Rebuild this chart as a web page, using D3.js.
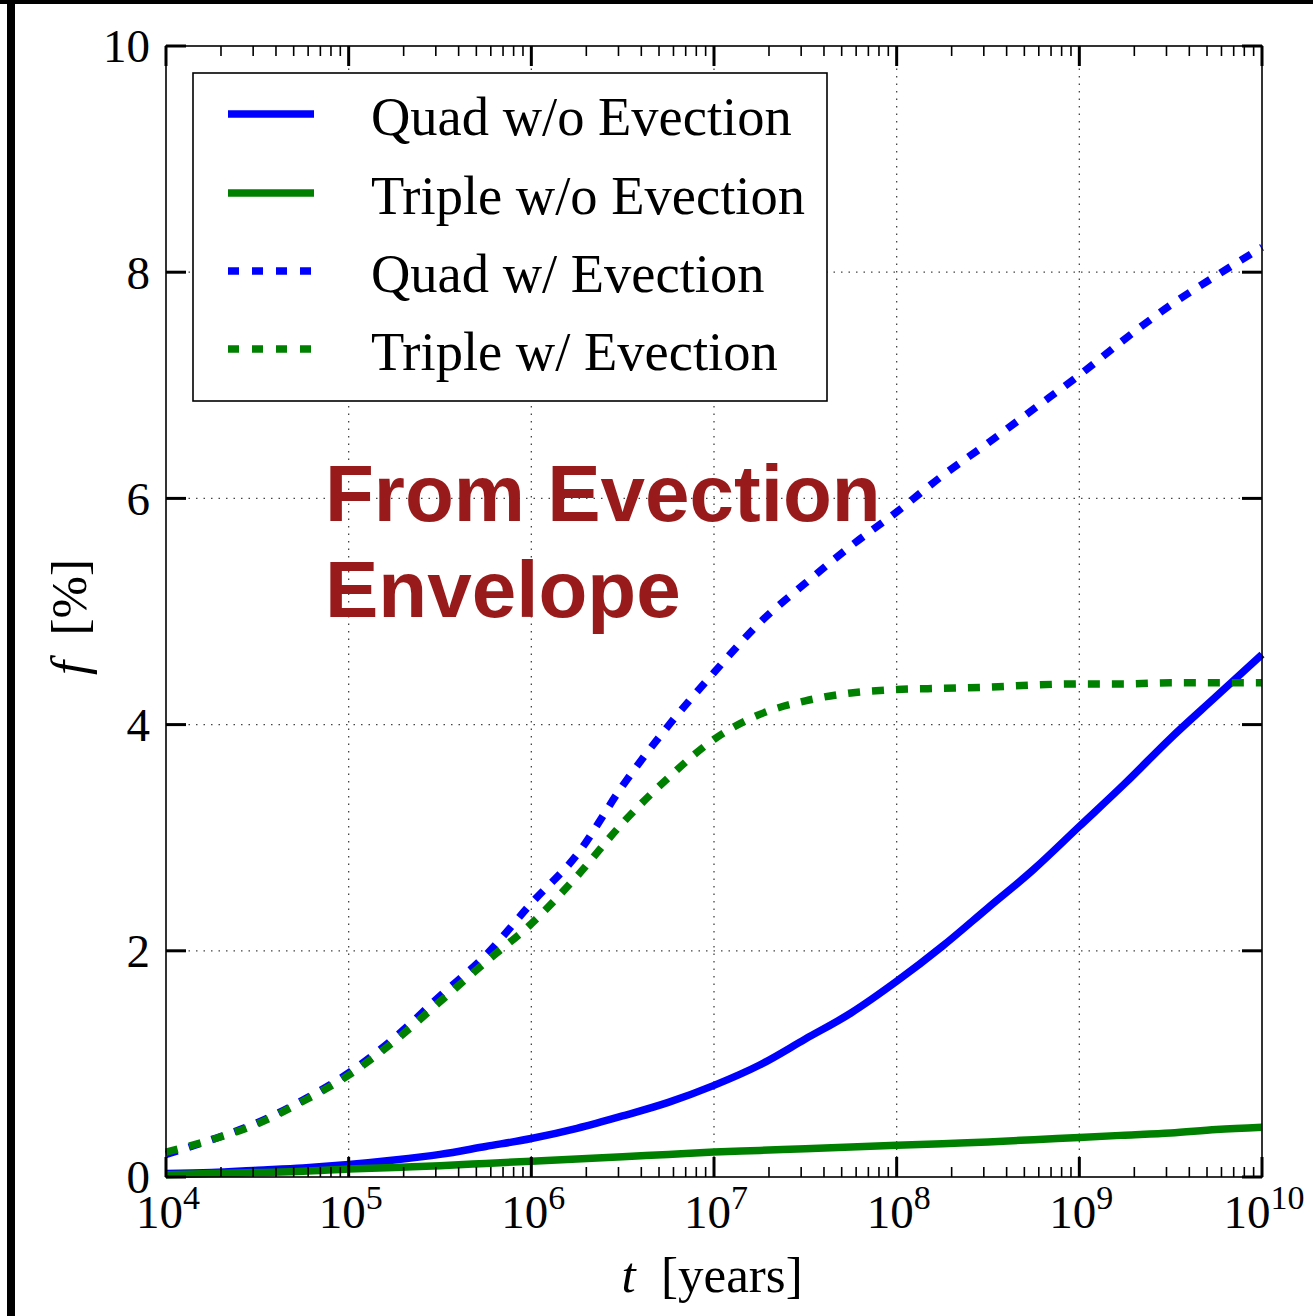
<!DOCTYPE html>
<html>
<head>
<meta charset="utf-8">
<script src="https://cdn.jsdelivr.net/npm/d3@7"></script>
<style>
  html, body { margin: 0; padding: 0; background: #fff; }
  svg { display: block; }
</style>
</head>
<body>
<svg id="chart" width="1313" height="1316"></svg>
<script>
// log10 of t [years] at which curves were read
const logT = [4, 4.25, 4.5, 4.75, 5, 5.25, 5.5, 5.75, 6, 6.25, 6.5, 6.75, 7,
              7.25, 7.5, 7.75, 8, 8.25, 8.5, 8.75, 9, 9.25, 9.5, 9.75, 10]

const quadNoEv   = [0.03, 0.04, 0.06, 0.08, 0.11, 0.15, 0.20, 0.27, 0.34, 0.43, 0.54, 0.66, 0.81,
                    0.99, 1.22, 1.45, 1.73, 2.04, 2.38, 2.72, 3.10, 3.48, 3.88, 4.25, 4.62]
const tripleNoEv = [0.02, 0.03, 0.04, 0.05, 0.07, 0.085, 0.10, 0.12, 0.14, 0.16, 0.18, 0.20, 0.22,
                    0.235, 0.25, 0.265, 0.28, 0.295, 0.31, 0.33, 0.35, 0.37, 0.39, 0.42, 0.44]
const quadEv     = [0.20, 0.33, 0.48, 0.68, 0.92, 1.23, 1.60, 1.96, 2.42, 2.85, 3.46, 3.99, 4.46,
                    4.90, 5.25, 5.58, 5.88, 6.20, 6.49, 6.79, 7.09, 7.41, 7.71, 7.97, 8.22]
const tripleEv   = [0.22, 0.33, 0.47, 0.67, 0.90, 1.20, 1.55, 1.90, 2.24, 2.66, 3.13, 3.53, 3.87,
                    4.09, 4.21, 4.28, 4.31, 4.32, 4.33, 4.35, 4.36, 4.36, 4.37, 4.37, 4.37]

const seriesNames = ['Quad w/o Evection', 'Triple w/o Evection', 'Quad w/ Evection', 'Triple w/ Evection']
const seriesColors = ['#0000ff', '#008000', '#0000ff', '#008000']
const seriesDashed = [false, false, true, true]
const seriesValues = [quadNoEv, tripleNoEv, quadEv, tripleEv]

const xDecades = [4, 5, 6, 7, 8, 9, 10]
const yTicks = [0, 2, 4, 6, 8, 10]

const svg = d3.select('#chart')

// page frame (black bars on top and left)
svg.append('rect').attr('x', 0).attr('y', 0).attr('width', 1313).attr('height', 4).attr('fill', '#000')
svg.append('rect').attr('x', 7).attr('y', 0).attr('width', 8).attr('height', 1316).attr('fill', '#000')

const plotL = 166, plotR = 1262, plotT = 46, plotB = 1177

let x = d3.scaleLog().domain([1e4, 1e10]).range([plotL, plotR])
let y = d3.scaleLinear().domain([0, 10]).range([plotB, plotT])

const serif = "'Liberation Serif', 'Times New Roman', serif"

// grid
let grid = svg.append('g').attr('class', 'grid')
grid.selectAll('line.gx')
  .data(xDecades.slice(1, -1))
  .join('line')
    .attr('class', 'gx')
    .attr('x1', d => x(10 ** d)).attr('x2', d => x(10 ** d))
    .attr('y1', plotT).attr('y2', plotB)
grid.selectAll('line.gy')
  .data(yTicks.slice(1, -1))
  .join('line')
    .attr('class', 'gy')
    .attr('x1', plotL).attr('x2', plotR)
    .attr('y1', d => y(d)).attr('y2', d => y(d))
grid.selectAll('line')
  .attr('stroke', '#444')
  .attr('stroke-width', 1.3)
  .attr('stroke-dasharray', '1.5,6')

// curves
let line = d3.line()
  .x((d, i) => x(10 ** logT[i]))
  .y(d => y(d))
  .curve(d3.curveMonotoneX)

let curves = svg.append('g').attr('class', 'curves')
// solid first, then dashed on top; triple over quad
;[0, 1, 2, 3].forEach(k => {
  curves.append('path')
    .attr('d', line(seriesValues[k]))
    .attr('fill', 'none')
    .attr('stroke', seriesColors[k])
    .attr('stroke-width', 7.5)
    .attr('stroke-dasharray', seriesDashed[k] ? '12,12' : null)
})

// axes: ticks inward on all four sides
let minorVals = []
for (let e = 4; e < 10; e++) {
  for (let m = 2; m <= 9; m++) minorVals.push(m * 10 ** e)
}

let axes = svg.append('g').attr('class', 'axes')
const majorLen = 20, minorLen = 10

function xTicksAt(g, yPos, dir) {
  g.selectAll(null).data(minorVals).join('line')
    .attr('x1', d => x(d)).attr('x2', d => x(d))
    .attr('y1', yPos).attr('y2', yPos + dir * minorLen)
    .attr('stroke', '#000').attr('stroke-width', 1.6)
  g.selectAll(null).data(xDecades).join('line')
    .attr('x1', d => x(10 ** d)).attr('x2', d => x(10 ** d))
    .attr('y1', yPos).attr('y2', yPos + dir * majorLen)
    .attr('stroke', '#000').attr('stroke-width', 3)
}
function yTicksAt(g, xPos, dir) {
  g.selectAll(null).data(yTicks).join('line')
    .attr('x1', xPos).attr('x2', xPos + dir * majorLen)
    .attr('y1', d => y(d)).attr('y2', d => y(d))
    .attr('stroke', '#000').attr('stroke-width', 3)
}
xTicksAt(axes.append('g'), plotB, -1)
xTicksAt(axes.append('g'), plotT, 1)
yTicksAt(axes.append('g'), plotL, 1)
yTicksAt(axes.append('g'), plotR, -1)

axes.append('rect')
  .attr('x', plotL).attr('y', plotT)
  .attr('width', plotR - plotL).attr('height', plotB - plotT)
  .attr('fill', 'none').attr('stroke', '#000').attr('stroke-width', 1.6)

// tick labels (10^n, centred on the tick as a whole)
let xLab = svg.append('g')
  .style('font-family', serif)
  .selectAll('text')
  .data(xDecades)
  .join('text')
    .attr('x', d => x(10 ** d) + 2)
    .attr('y', 1228)
    .attr('text-anchor', 'middle')
    .attr('font-size', 47)
xLab.append('tspan').text('10')
xLab.append('tspan').attr('dy', -19).attr('font-size', 34).text(d => d)

svg.append('g')
  .style('font-family', serif)
  .selectAll('text')
  .data(yTicks)
  .join('text')
    .attr('x', 150)
    .attr('y', d => y(d))
    .attr('dy', '0.35em')
    .attr('text-anchor', 'end')
    .attr('font-size', 47)
    .text(d => d)

// axis titles
let xTitle = svg.append('text')
  .attr('x', 712).attr('y', 1292)
  .attr('text-anchor', 'middle')
  .attr('font-family', serif)
  .attr('font-size', 51)
xTitle.append('tspan').attr('font-style', 'italic').text('t')
xTitle.append('tspan').text('\u2002[years]')

let yTitle = svg.append('text')
  .attr('transform', 'translate(86,617) rotate(-90)')
  .attr('text-anchor', 'middle')
  .attr('font-family', serif)
  .attr('font-size', 51)
yTitle.append('tspan').attr('font-style', 'italic').text('f')
yTitle.append('tspan').text('\u2002[%]')

// legend
let legend = svg.append('g').attr('class', 'legend')
legend.append('rect')
  .attr('x', 193).attr('y', 73).attr('width', 634).attr('height', 328)
  .attr('fill', '#fff').attr('stroke', '#000').attr('stroke-width', 1.6)
const rowY = [114, 193, 271, 349]
seriesNames.forEach((name, k) => {
  legend.append('line')
    .attr('x1', 228).attr('x2', 314)
    .attr('y1', rowY[k]).attr('y2', rowY[k])
    .attr('stroke', seriesColors[k])
    .attr('stroke-width', 7.5)
    .attr('stroke-dasharray', seriesDashed[k] ? '11,13' : null)
  legend.append('text')
    .attr('x', 371).attr('y', rowY[k] + 3)
    .attr('dy', '0.33em')
    .attr('font-family', serif)
    .attr('font-size', 54.5)
    .text(name)
})

// annotation
let note = svg.append('text')
  .attr('font-family', "'Liberation Sans', Arial, sans-serif")
  .attr('font-weight', 'bold')
  .attr('font-size', 80)
  .attr('fill', '#991a1a')
note.append('tspan').attr('x', 325).attr('y', 521).text('From Evection')
note.append('tspan').attr('x', 325).attr('y', 617).text('Envelope')
</script>
</body>
</html>
